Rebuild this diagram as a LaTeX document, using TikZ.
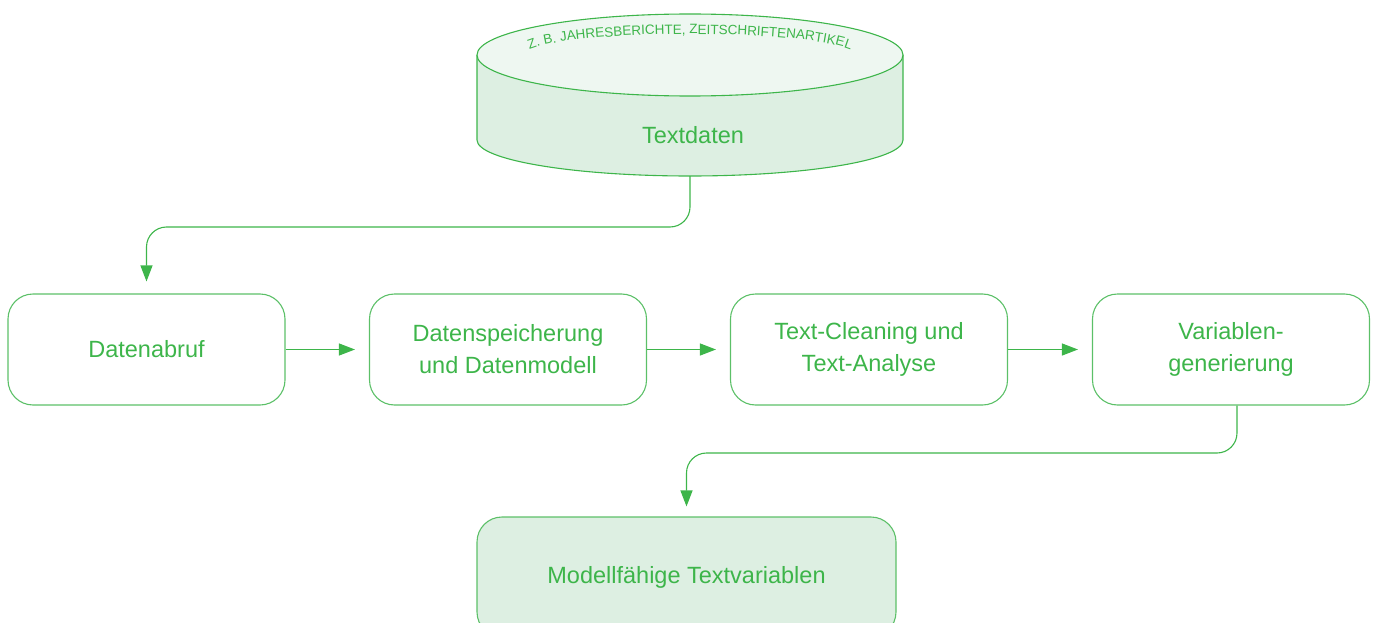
\documentclass[tikz,border=0pt]{standalone}
\usepackage{fontspec}
\setmainfont{Liberation Sans}
\usetikzlibrary{arrows.meta,calc,decorations.text}
\definecolor{tgreen}{HTML}{3DB54A}
\definecolor{lgreen}{HTML}{5CC068}
\definecolor{sidefill}{HTML}{DDEFE2}
\definecolor{topfill}{HTML}{EEF7F1}
\begin{document}
\begin{tikzpicture}[x=1pt,y=-1pt,
  stepbox/.style={draw=lgreen, line width=1.1pt, rounded corners=25pt, minimum width=277pt, minimum height=111pt, align=center, text=tgreen, font=\fontsize{23.5}{32}\selectfont, inner sep=0pt},
  conn/.style={draw=tgreen, line width=1.1pt, -{Triangle[length=16pt,width=12pt]}},
  lbl/.style={text=tgreen, font=\fontsize{23.5}{32}\selectfont, inner sep=0pt}
  ]
\useasboundingbox (0,0) rectangle (1375,623);
% cylinder
\fill[sidefill] (477,55) -- (477,140) arc[start angle=180,end angle=360,x radius=213pt,y radius=36pt] -- (903,55) -- cycle;
\draw[tgreen, line width=1.1pt] (477,55) -- (477,140) arc[start angle=180,end angle=360,x radius=213pt,y radius=36pt] -- (903,55);
\filldraw[fill=topfill, draw=tgreen, line width=1.1pt] (690,55) ellipse [x radius=213pt, y radius=41pt];
\node[lbl, anchor=base] (tdlabel) at (693,143) {Textdaten};
\path[decorate, decoration={text along path, text align=center, text={|\fontsize{13.5}{13.5}\selectfont\color{tgreen}|Z. B. JAHRESBERICHTE, ZEITSCHRIFTENARTIKEL}}] (690,56) ++(166:168pt and 22pt) arc[start angle=166,end angle=14,x radius=168pt,y radius=22pt];
\coordinate (cylbot) at (690,176);
% process boxes
\node[stepbox] (b1) at (146.5,349.5) {Datenabruf};
\node[stepbox] (b2) at (508,349.5) {Datenspeicherung\\und Datenmodell};
\node[stepbox] (b3) at (869,349.5) {Text-Cleaning und\\Text-Analyse};
\node[stepbox] (b4) at (1231,349.5) {Variablen-\\generierung};
\node[stepbox, fill=sidefill, minimum width=419pt, minimum height=120pt] (out) at (686.5,577) {Modellfähige Textvariablen};
% connectors
\draw[conn, shorten >=14pt] (b1.east) -- (b2.west);
\draw[conn, shorten >=14pt] (b2.east) -- (b3.west);
\draw[conn, shorten >=14pt] (b3.east) -- (b4.west);
\coordinate (turn1) at (690,227);
\draw[conn, rounded corners=20pt, shorten >=12pt] (cylbot) -- (turn1) -| (b1.north);
\coordinate (b4out) at ($(b4.south)+(6,0)$);
\coordinate (turn2) at (1237,453);
\draw[conn, rounded corners=20pt, shorten >=10pt] (b4out) -- (turn2) -| (out.north);
\end{tikzpicture}
\end{document}
